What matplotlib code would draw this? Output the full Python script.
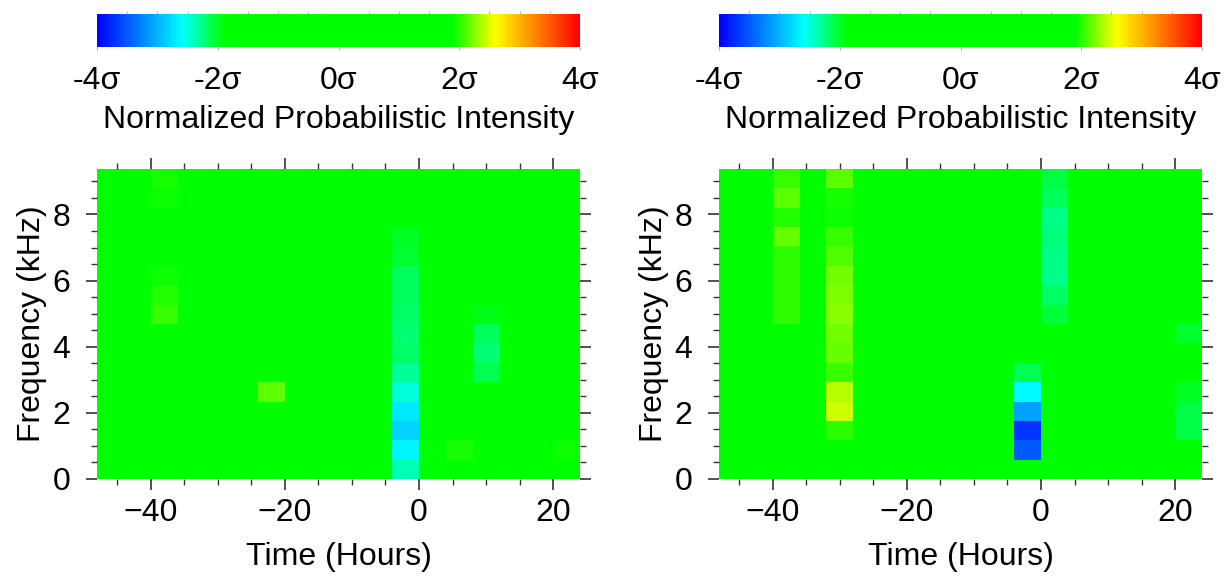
import numpy as np
import matplotlib.pyplot as plt
from matplotlib.colors import LinearSegmentedColormap, Normalize
from matplotlib.cm import ScalarMappable
from matplotlib.ticker import MultipleLocator

plt.rcParams['font.family'] = ['Liberation Sans', 'DejaVu Sans']

# 4 hour time bins, 0.586 kHz frequency bins
time_edges = np.arange(-48, 25, 4)
freq_step = 0.5859375
freq_edges = np.arange(17) * freq_step

# non-zero cells: bin start hour, frequency row, normalized intensity (sigma)
left_hours = [-40, -40, -40, -40, -40,
              -24,
              -4, -4, -4, -4, -4, -4, -4, -4, -4, -4, -4, -4, -4,
              4,
              8, 8, 8, 8,
              20]
left_rows = [15, 14, 10, 9, 8,
             4,
             0, 1, 2, 3, 4, 5, 6, 7, 8, 9, 10, 11, 12,
             1,
             8, 7, 6, 5,
             1]
left_sigma = [1.94, 1.93, 1.93, 1.98, 2.06,
              2.15,
              -2.39, -2.63, -2.82, -2.71, -2.50, -2.31, -2.17, -2.20, -2.17, -2.15, -2.15, -2.01, -1.97,
              1.94,
              -1.95, -2.15, -2.20, -2.12,
              1.91]

right_hours = [-40] * 8 + [-32] * 14 + [-4] * 5 + [0] * 8 + [20] * 4
right_rows = [15, 14, 13, 12, 11, 10, 9, 8,
              15, 14, 13, 12, 11, 10, 9, 8, 7, 6, 5, 4, 3, 2,
              5, 4, 3, 2, 1,
              15, 14, 13, 12, 11, 10, 9, 8,
              7, 4, 3, 2]
right_sigma = [2.05, 2.13, 1.98, 2.17, 2.01, 2.02, 2.01, 2.00,
               2.15, 1.95, 1.93, 2.04, 2.12, 2.20, 2.23, 2.28, 2.20, 2.17, 2.06, 2.39, 2.45, 2.01,
               -2.12, -2.60, -3.12, -3.70, -3.48,
               -2.09, -2.15, -2.28, -2.23, -2.28, -2.28, -2.17, -2.04,
               -2.01, -1.98, -2.09, -2.09]

cbar_ticks = [-4, -2, 0, 2, 4]

stops = [(-4, '#0000ff'), (-2.6, '#00ffff'), (-1.9, '#00ff00'),
         (1.9, '#00ff00'), (2.6, '#ffff00'), (4, '#ff0000')]
cmap = LinearSegmentedColormap.from_list('sig', [((v + 4) / 8, c) for v, c in stops])
norm = Normalize(-4, 4)


def make_grid(hours, rows, sigma):
    grid = np.zeros((len(freq_edges) - 1, len(time_edges) - 1))
    for h, r, s in zip(hours, rows, sigma):
        grid[r, (h + 48) // 4] = s
    return grid


fig = plt.figure(figsize=(12.31, 5.76), dpi=100)
fs = 23
tick_col = '#333333'

for left, (hours, rows, sigma) in zip([97 / 1231, 719 / 1231],
                                      [(left_hours, left_rows, left_sigma),
                                       (right_hours, right_rows, right_sigma)]):
    ax = fig.add_axes([left, 1 - 479 / 576, 483 / 1231, 310 / 576])
    ax.pcolormesh(time_edges, freq_edges, make_grid(hours, rows, sigma),
                  cmap=cmap, norm=norm, shading='flat')
    ax.set_xlim(-48, 24)
    ax.set_ylim(0, 16 * freq_step)
    for s in ax.spines.values():
        s.set_visible(False)
    ax.xaxis.set_major_locator(MultipleLocator(20))
    ax.xaxis.set_minor_locator(MultipleLocator(5))
    ax.yaxis.set_major_locator(MultipleLocator(2))
    ax.yaxis.set_minor_locator(MultipleLocator(0.5))
    ax.tick_params(which='both', direction='out', top=True, right=True,
                   color=tick_col, labelsize=fs)
    ax.tick_params(which='major', length=8, width=1.2)
    ax.tick_params(axis='x', which='major', pad=6)
    ax.tick_params(axis='y', which='major', pad=11)
    ax.tick_params(which='minor', length=4, width=1)
    ax.set_xlabel('Time (Hours)', fontsize=fs, labelpad=10)
    ax.set_ylabel('Frequency (kHz)', fontsize=fs, labelpad=4)

    cax = fig.add_axes([left, 1 - 47 / 576, 483 / 1231, 33 / 576])
    cb = fig.colorbar(ScalarMappable(norm=norm, cmap=cmap), cax=cax,
                      orientation='horizontal')
    cb.outline.set_visible(False)
    cb.set_ticks(cbar_ticks)
    cb.set_ticklabels([f'{t}\u03c3' for t in cbar_ticks])
    cax.xaxis.set_minor_locator(MultipleLocator(0.5))
    cax.tick_params(which='major', length=2, color='#aaaaaa', labelsize=fs, pad=12)
    cax.tick_params(which='minor', length=2, color='#aaaaaa', top=True, bottom=False)
    cb.set_label('Normalized Probabilistic Intensity', fontsize=fs, labelpad=6)

fig.savefig('out.png', dpi=100)
